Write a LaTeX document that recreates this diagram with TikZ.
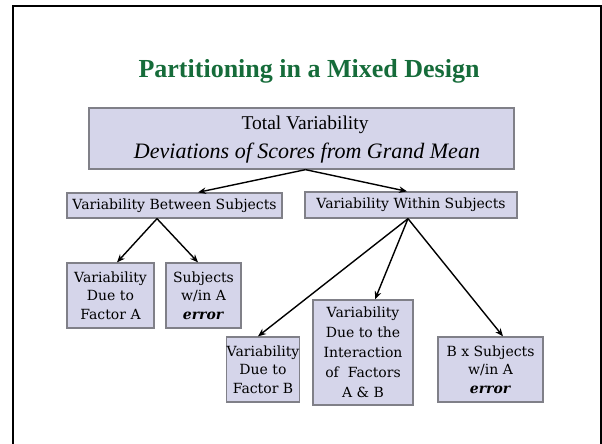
\documentclass[tikz,border=0pt]{standalone}
\usepackage{fontspec}
\setmainfont{Liberation Serif}
\newfontfamily\boxfont{DejaVu Serif}
\usetikzlibrary{arrows.meta}
\definecolor{boxfill}{RGB}{213,213,234}
\definecolor{boxline}{RGB}{128,128,136}
\definecolor{titlegreen}{RGB}{22,108,58}
\tikzset{
  vbox/.style={draw=boxline, line width=1.3pt, fill=boxfill, rectangle, inner sep=0pt, align=center},
  sbox/.style={vbox, font=\boxfont\fontsize{14}{18.5}\selectfont},
  conn/.style={line width=1.4pt, -{Stealth[length=8pt,width=6.5pt]}}
}
\begin{document}
\begin{tikzpicture}[x=1pt,y=-1pt]
\useasboundingbox (0,0) rectangle (602,444);
\draw[line width=2.6pt] (13,444) -- (13,6) -- (601,6) -- (601,444);
\node[font=\fontsize{26}{30}\selectfont\bfseries, text=titlegreen] (title) at (309,71) {Partitioning in a Mixed Design};
\node[vbox, minimum width=425pt, minimum height=61pt] (T) at (301.5,138.5) {};
\node[font=\fontsize{19.5}{22}\selectfont] (t1) at (305,125) {Total Variability};
\node[font=\fontsize{22}{24}\selectfont\itshape] (t2) at (307,153) {Deviations of Scores from Grand Mean};
\node[sbox, minimum width=215pt, minimum height=25pt] (B) at (174.5,205.5) {Variability Between Subjects};
\node[sbox, minimum width=212pt, minimum height=26pt] (W) at (411,205) {Variability Within Subjects};
\node[sbox, minimum width=87pt, minimum height=65pt] (FA) at (110.5,295.5) {Variability\\Due to\\Factor A};
\node[sbox, minimum width=75pt, minimum height=65pt] (SA) at (203.5,295.5) {Subjects\\w/in A\\\textit{\textbf{error}}};
\node[sbox, minimum width=60pt, minimum height=65pt] (FB) at (263,369.5) {Variability\\Due to\\Factor B};
\node[sbox, font=\boxfont\fontsize{14}{20}\selectfont, minimum width=100pt, minimum height=105pt] (I) at (363,352.5) {Variability\\Due to the\\Interaction\\of~ Factors\\A \& B};
\node[sbox, minimum width=105pt, minimum height=65pt] (BS) at (490.5,369.5) {B x Subjects\\w/in A\\\textit{\textbf{error}}};
\draw[conn] ([xshift=4pt]T.south) -- ([xshift=23.5pt]B.north);
\draw[conn] ([xshift=4pt]T.south) -- ([xshift=-4pt]W.north);
\draw[conn] ([xshift=-17.5pt]B.south) -- ([xshift=6.5pt]FA.north);
\draw[conn] ([xshift=-17.5pt]B.south) -- ([xshift=-5.5pt]SA.north);
\draw[conn] ([xshift=-3pt]W.south) -- ([xshift=-5pt]FB.north);
\draw[conn] ([xshift=-3pt]W.south) -- ([xshift=12pt]I.north);
\draw[conn] ([xshift=-3pt]W.south) -- ([xshift=12.5pt]BS.north);
\end{tikzpicture}
\end{document}
